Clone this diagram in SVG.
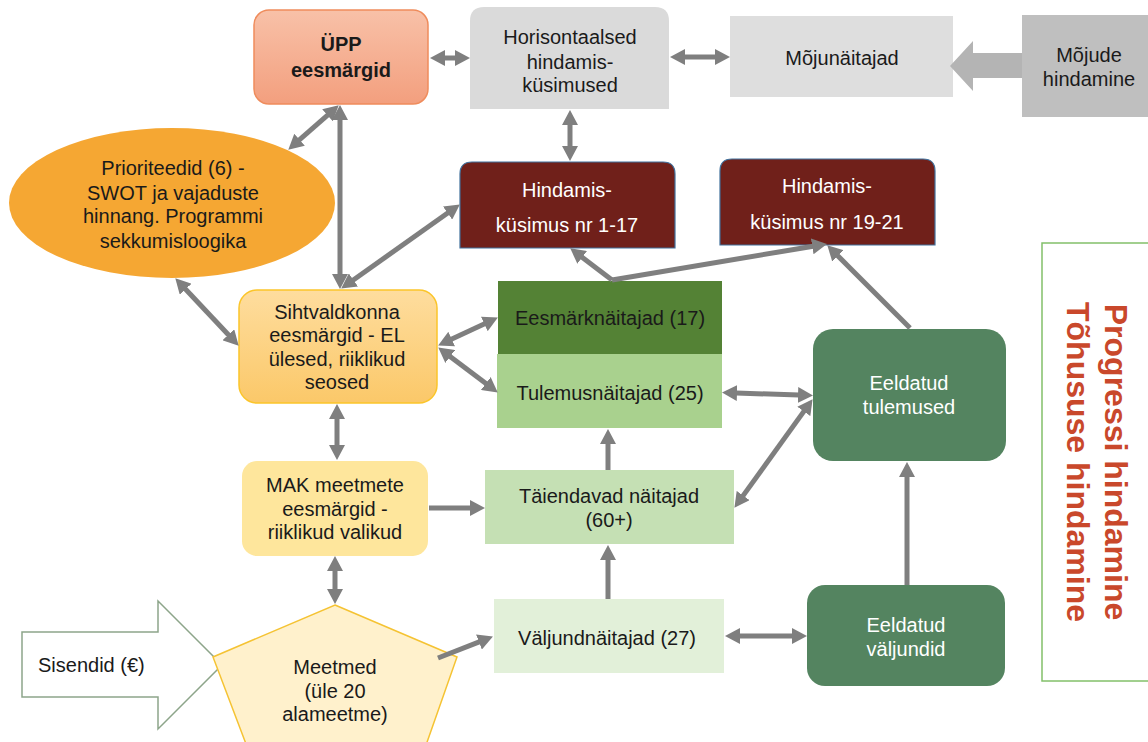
<svg xmlns="http://www.w3.org/2000/svg" width="1148" height="742" viewBox="0 0 1148 742">
<defs>
<style>
text{font-family:"Liberation Sans",Arial,sans-serif;font-size:20px;text-anchor:middle;fill:#1a1a1a}
.w{fill:#ffffff}
.b{font-weight:bold}
.c{fill:none;stroke:#7f7f7f;stroke-width:5}
.d{marker-start:url(#ah);marker-end:url(#ah)}
.s{marker-end:url(#ah)}
</style>
<linearGradient id="gUpp" x1="0" y1="0" x2="0" y2="1"><stop offset="0" stop-color="#f8c1a8"/><stop offset="1" stop-color="#f39f7e"/></linearGradient>
<linearGradient id="gSiht" x1="0" y1="0" x2="0" y2="1"><stop offset="0" stop-color="#fedd9e"/><stop offset="1" stop-color="#fbc869"/></linearGradient>
<marker id="ah" viewBox="0 0 15 16" refX="1" refY="8" markerWidth="15" markerHeight="16" markerUnits="userSpaceOnUse" orient="auto-start-reverse"><path d="M0,0 L15,8 L0,16 z" fill="#7f7f7f"/></marker>
</defs>
<rect width="1148" height="742" fill="#ffffff"/>

<g id="sisendid">
<polygon points="22,632 158,632 158,601 222,665 158,729 158,697 22,697" fill="#ffffff" stroke="#8da58a" stroke-width="1.5"/>
<text x="38" y="672" style="text-anchor:start">Sisendid (€)</text>
</g>

<g id="upp">
<rect x="254" y="10" width="174" height="94" rx="15" fill="url(#gUpp)" stroke="#ef8c5c" stroke-width="1.5"/>
<text x="341" y="51" class="b">ÜPP</text>
<text x="341" y="77" class="b">eesmärgid</text>
</g>

<g id="horisontaalsed">
<path d="M470,109 V21 Q470,7 484,7 H655 Q669,7 669,21 V109 Z" fill="#dadada"/>
<text x="570" y="44">Horisontaalsed</text>
<text x="570" y="69">hindamis-</text>
<text x="570" y="92">küsimused</text>
</g>

<g id="mojunaitajad">
<rect x="730" y="16" width="223" height="81" fill="#dedede"/>
<text x="842" y="65">Mõjunäitajad</text>
</g>

<g id="mojude">
<rect x="1022" y="15" width="126" height="102" fill="#bfbfbf"/>
<text x="1089" y="62">Mõjude</text>
<text x="1089" y="86">hindamine</text>
<polygon points="1022,53 973,53 973,41 950,66 973,91 973,78 1022,78" fill="#b4b4b4"/>
</g>

<g id="prioriteedid">
<ellipse cx="172" cy="203" rx="163" ry="75" fill="#f5a733"/>
<text x="173" y="175">Prioriteedid (6) -</text>
<text x="173" y="200">SWOT ja vajaduste</text>
<text x="173" y="223">hinnang. Programmi</text>
<text x="173" y="248">sekkumisloogika</text>
</g>

<g id="hindamis1">
<path d="M460,248 V174 Q460,162 472,162 H663 Q675,162 675,174 V248 Z" fill="#70201a" stroke="#41719c" stroke-width="1.2"/>
<text x="567" y="197" class="w">Hindamis-</text>
<text x="567" y="232" class="w">küsimus nr 1-17</text>
</g>

<g id="hindamis2">
<path d="M720,245 V171 Q720,159 732,159 H923 Q935,159 935,171 V245 Z" fill="#70201a" stroke="#41719c" stroke-width="1.2"/>
<text x="827" y="193" class="w">Hindamis-</text>
<text x="827" y="229" class="w">küsimus nr 19-21</text>
</g>

<g id="sihtvaldkonna">
<rect x="239" y="290" width="198" height="113" rx="18" fill="url(#gSiht)" stroke="#fbc52a" stroke-width="1.5"/>
<text x="337" y="319">Sihtvaldkonna</text>
<text x="337" y="342">eesmärgid - EL</text>
<text x="337" y="366">ülesed, riiklikud</text>
<text x="337" y="389">seosed</text>
</g>

<g id="mak">
<rect x="242" y="461" width="186" height="95" rx="15" fill="#fee69c"/>
<text x="335" y="492">MAK meetmete</text>
<text x="335" y="516">eesmärgid -</text>
<text x="335" y="539">riiklikud valikud</text>
</g>

<g id="meetmed">
<polygon points="335,605 457,657 419,765 254,765 213,657" fill="#fff1cc" stroke="#f5c333" stroke-width="1.5"/>
<text x="335" y="674">Meetmed</text>
<text x="335" y="698">(üle 20</text>
<text x="335" y="721">alameetme)</text>
</g>

<g id="eesmarknaitajad">
<rect x="498" y="281" width="224" height="73" fill="#548235"/>
<text x="610" y="325">Eesmärknäitajad (17)</text>
</g>

<g id="tulemusnaitajad">
<rect x="497" y="354" width="225" height="74" fill="#a9d18e"/>
<text x="610" y="400">Tulemusnäitajad (25)</text>
</g>

<g id="taiendavad">
<rect x="485" y="470" width="249" height="74" fill="#c5e0b4"/>
<text x="609" y="503">Täiendavad näitajad</text>
<text x="609" y="527">(60+)</text>
</g>

<g id="valjundnaitajad">
<rect x="494" y="599" width="230" height="74" fill="#e2f0d9"/>
<text x="607" y="645">Väljundnäitajad (27)</text>
</g>

<g id="eeldatud-tulemused">
<rect x="813" y="329" width="193" height="132" rx="20" fill="#548460"/>
<text x="909" y="390" class="w">Eeldatud</text>
<text x="909" y="414" class="w">tulemused</text>
</g>

<g id="eeldatud-valjundid">
<rect x="807" y="585" width="198" height="101" rx="18" fill="#548460"/>
<text x="906" y="632" class="w">Eeldatud</text>
<text x="906" y="656" class="w">väljundid</text>
</g>

<g id="progress">
<rect x="1042" y="243" width="110" height="438" fill="#ffffff" stroke="#82c06a" stroke-width="1.5"/>
<text transform="translate(1105,462) rotate(90)" class="b" style="font-size:32px;fill:#c9482b">Progressi hindamine</text>
<text transform="translate(1067,462) rotate(90)" class="b" style="font-size:32px;fill:#c9482b">Tõhususe hindamine</text>
</g>

<g id="connectors">
<line class="c d" x1="444" y1="58" x2="456" y2="58"/>
<line class="c d" x1="684" y1="57" x2="716" y2="57"/>
<line class="c d" x1="570" y1="124" x2="570" y2="147"/>
<line class="c d" x1="328.2" y1="114.6" x2="298.8" y2="140.4"/>
<line class="c d" x1="340" y1="119" x2="340" y2="275"/>
<line class="c d" x1="352.6" y1="280.5" x2="448.4" y2="212.5"/>
<line class="c d" x1="184.9" y1="288.5" x2="229.1" y2="335.5"/>
<line class="c d" x1="450.8" y1="339.5" x2="485.2" y2="323.5"/>
<line class="c d" x1="449.4" y1="355.9" x2="486.6" y2="384.1"/>
<line class="c d" x1="337" y1="418" x2="337" y2="446"/>
<line class="c d" x1="335" y1="570" x2="335" y2="590"/>
<line class="c s" x1="429" y1="508" x2="471" y2="508"/>
<line class="c s" x1="438" y1="658" x2="479.9" y2="641.7"/>
<line class="c s" x1="608" y1="599" x2="608" y2="559"/>
<line class="c s" x1="608" y1="470" x2="608" y2="443"/>
<line class="c d" x1="736" y1="393" x2="799" y2="395"/>
<line class="c d" x1="742.6" y1="496.4" x2="804.4" y2="410.6"/>
<line class="c d" x1="739" y1="636" x2="793" y2="636"/>
<line class="c s" x1="907" y1="585" x2="907" y2="476"/>
<line class="c s" x1="910" y1="328" x2="837.2" y2="255.2"/>
<line class="c s" x1="612" y1="280" x2="581.4" y2="256.8"/>
<line class="c s" x1="612" y1="280" x2="813.2" y2="246.2"/>
</g>
</svg>
